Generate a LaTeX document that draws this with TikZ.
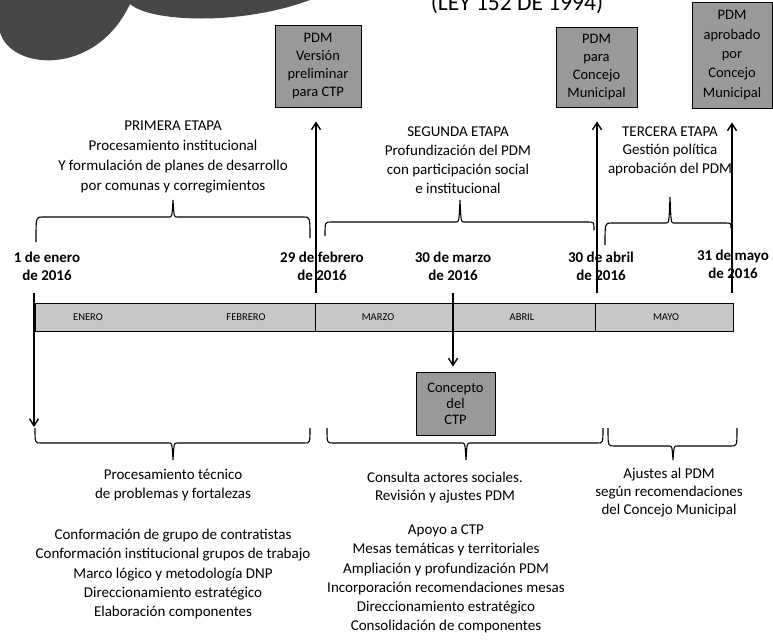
\documentclass[tikz,border=0pt]{standalone}
\usepackage{fontspec}
\setmainfont{Carlito}
\usetikzlibrary{arrows.meta}
\newcommand{\drawbrace}[7]{%
  \draw[bracestyle] (#1,#2) .. controls (#1,#5) .. (#1+6,#5) -- (#6-4,#5)
    .. controls (#6-1,#5) .. (#6,#7) .. controls (#6+1,#5) .. (#6+4,#5)
    -- (#3-6,#5) .. controls (#3,#5) .. (#3,#4);}
\begin{document}
\begin{tikzpicture}[x=1pt,y=-1pt,
  txt/.style={align=center, inner sep=0pt, font=\fontsize{15}{19.3}\selectfont},
  datelbl/.style={align=center, inner sep=0pt, font=\bfseries\fontsize{15}{18}\selectfont},
  pdmbox/.style={draw=black, line width=0.8pt, fill=black!40, align=center, inner sep=0pt,
    font=\fontsize{14.5}{17.8}\selectfont},
  monthlbl/.style={inner sep=0pt, font=\fontsize{10.5}{12}\selectfont},
  arr/.style={line width=1.7pt, -{Straight Barb[length=7pt,width=9pt,line width=1.4pt]}},
  bracestyle/.style={line width=1.1pt}]
\useasboundingbox (0,0) rectangle (773,643);
\clip (0,0) rectangle (773,643);
\fill[white] (0,0) rectangle (773,643);
% cloud
\fill[black!72] (0,0) -- (0,32) .. controls (10,70) and (95,78) .. (130,4)
   .. controls (150,22) and (240,26) .. (310,0) -- cycle;
\node[anchor=base, inner sep=0pt, font=\fontsize{23.5}{26}\selectfont] (ley) at (517,10) {(LEY 152 DE 1994)};
% boxes
\node[pdmbox, minimum width=86pt, minimum height=82pt] (b1) at (318,66) {PDM\\Versión\\preliminar\\para CTP};
\node[pdmbox, minimum width=81pt, minimum height=80pt] (b2) at (596.5,67) {PDM\\para\\Concejo\\Municipal};
\node[pdmbox, minimum width=80pt, minimum height=106pt, font=\fontsize{14.5}{19.3}\selectfont] (b3) at (732,55) {PDM\\aprobado\\por\\Concejo\\Municipal};
\node[pdmbox, minimum width=79pt, minimum height=63pt, font=\fontsize{14.5}{16}\selectfont] (b4) at (455.5,403.5) {Concepto\\del\\CTP};
% month bar
\node[draw=black, line width=0.8pt, fill=black!22, minimum width=698pt, minimum height=28pt, inner sep=0pt] (bar) at (384,317) {};
\draw[line width=0.8pt] (315,303) -- (315,331);
\draw[line width=0.8pt] (453,303) -- (453,331);
\draw[line width=0.8pt] (595,303) -- (595,331);
\node[monthlbl] (m1) at (88,317) {ENERO};
\node[monthlbl] (m2) at (246,317) {FEBRERO};
\node[monthlbl] (m3) at (378,317) {MARZO};
\node[monthlbl] (m4) at (522,317) {ABRIL};
\node[monthlbl] (m5) at (666,317) {MAYO};
% arrows
\coordinate (s1) at (316,293);
\coordinate (s2) at (597,293);
\coordinate (s3) at (732,293);
\coordinate (s4) at (34,293);
\coordinate (s5) at (453,293);
\coordinate (e4) at (34,427);
\draw[arr, shorten >=14pt] (s1) -- (s1 |- b1.south);
\draw[arr, shorten >=14pt] (s2) -- (s2 |- b2.south);
\draw[arr, shorten >=14pt] (s3) -- (s3 |- b3.south);
\draw[arr] (s4) -- (e4);
\draw[arr, shorten >=5pt] (s5) -- (s5 |- b4.north);
% dates
\node[datelbl] (d1) at (47,266) {1 de enero\\de 2016};
\node[datelbl] (d2) at (322,266) {29 de febrero\\de 2016};
\node[datelbl] (d3) at (453,266) {30 de marzo\\de 2016};
\node[datelbl] (d4) at (601,266) {30 de abril\\de 2016};
\node[datelbl] (d5) at (733,264) {31 de mayo\\de 2016};
% upper labels
\node[txt, font=\fontsize{15}{20}\selectfont] (p1) at (173,157) {PRIMERA ETAPA\\Procesamiento institucional\\Y formulación de planes de desarrollo\\por comunas y corregimientos};
\node[txt, font=\fontsize{15}{19}\selectfont] (p2) at (458,160) {SEGUNDA ETAPA\\Profundización del PDM\\con participación social\\e institucional};
\node[txt, font=\fontsize{15}{18.5}\selectfont] (p3) at (670,151) {TERCERA ETAPA\\Gestión política\\aprobación del PDM};
% upper braces
\drawbrace{36}{242}{310}{238}{217}{173}{200}
\drawbrace{325}{236}{594}{230}{222}{460}{200}
\drawbrace{605}{245}{731}{228}{223}{670}{197}
% lower braces
\drawbrace{35}{428}{310}{428}{443}{173}{460}
\drawbrace{327}{428}{603}{428}{443}{466}{460}
\drawbrace{608}{428}{737}{428}{446}{673}{460}
% lower labels
\node[txt, font=\fontsize{15}{18.5}\selectfont] (l1) at (173,485) {Procesamiento técnico\\de problemas y fortalezas};
\node[txt] (l1b) at (173,574) {Conformación de grupo de contratistas\\Conformación institucional grupos de trabajo\\Marco lógico y metodología DNP\\Direccionamiento estratégico\\Elaboración componentes};
\node[txt, font=\fontsize{15}{18}\selectfont] (l2) at (445,488) {Consulta actores sociales.\\Revisión y ajustes PDM};
\node[txt] (l2b) at (446,579) {Apoyo a CTP\\Mesas temáticas y territoriales\\Ampliación y profundización PDM\\Incorporación recomendaciones mesas\\Direccionamiento estratégico\\Consolidación de componentes};
\node[txt, font=\fontsize{15}{18}\selectfont] (l3) at (669,493) {Ajustes al PDM\\según recomendaciones\\del Concejo Municipal};
\end{tikzpicture}
\end{document}
